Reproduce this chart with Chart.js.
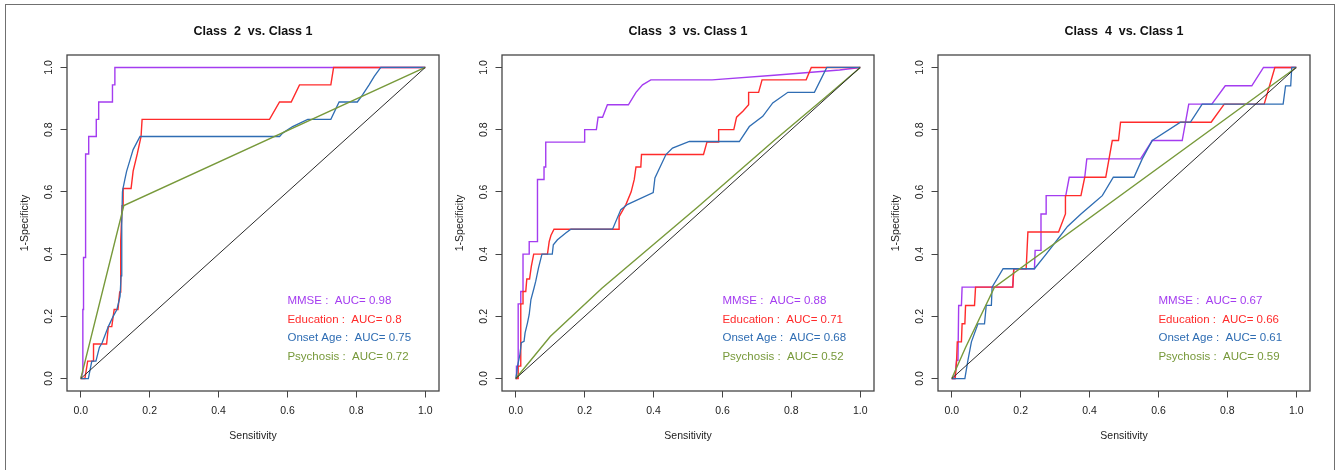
<!DOCTYPE html>
<html><head><meta charset="utf-8">
<script src="https://cdn.jsdelivr.net/npm/chart.js@4.4.1/dist/chart.umd.min.js"></script>
<style>
html,body{margin:0;padding:0;background:#fff;width:1341px;height:470px;overflow:hidden;position:relative}
#frame{position:absolute;left:5px;top:4px;width:1330px;height:480px;border:1.4px solid #707070;border-bottom:none;box-sizing:border-box}
canvas{position:absolute;top:0}
</style></head><body>
<div id="frame"></div>
<canvas id="c1" width="447" height="470" style="left:0px"></canvas>
<canvas id="c2" width="447" height="470" style="left:435px"></canvas>
<canvas id="c3" width="447" height="470" style="left:871px"></canvas>
<script>
const FONT = '"Liberation Sans", Arial, Helvetica, sans-serif';

const tickValues = [0, 0.2, 0.4, 0.6, 0.8, 1.0];
const seriesNames = ['MMSE', 'Education', 'Onset Age', 'Psychosis'];
const seriesColors = ['#A43CF0', '#FF2B2B', '#2F6DB3', '#77993A'];
const panelTitles = ['Class  2  vs. Class 1', 'Class  3  vs. Class 1', 'Class  4  vs. Class 1'];
const auc2 = ['0.98', '0.8', '0.75', '0.72'];
const auc3 = ['0.88', '0.71', '0.68', '0.52'];
const auc4 = ['0.67', '0.66', '0.61', '0.59'];
const diagonal = [[0,0],[1,1]];

// Class 2 vs Class 1
const c2MMSE = [[0,0],[0.006,0.02],[0.006,0.222],[0.008,0.222],[0.008,0.389],[0.014,0.389],[0.014,0.722],[0.023,0.722],[0.023,0.778],[0.045,0.778],[0.045,0.833],[0.052,0.833],[0.052,0.889],[0.092,0.889],[0.092,0.944],[0.099,0.944],[0.099,1],[1,1]];
const c2Edu = [[0,0],[0.012,0],[0.02,0.056],[0.037,0.056],[0.037,0.111],[0.075,0.111],[0.08,0.167],[0.09,0.167],[0.097,0.222],[0.108,0.222],[0.113,0.278],[0.116,0.278],[0.116,0.444],[0.12,0.556],[0.123,0.556],[0.123,0.611],[0.146,0.611],[0.152,0.667],[0.164,0.722],[0.175,0.778],[0.178,0.833],[0.548,0.833],[0.577,0.889],[0.611,0.889],[0.635,0.944],[0.726,0.944],[0.734,1],[1,1]];
const c2Onset = [[0,0],[0.022,0],[0.032,0.056],[0.044,0.056],[0.054,0.1],[0.062,0.115],[0.08,0.167],[0.094,0.2],[0.105,0.222],[0.114,0.264],[0.117,0.33],[0.119,0.5],[0.121,0.6],[0.123,0.613],[0.128,0.64],[0.133,0.666],[0.143,0.703],[0.152,0.736],[0.172,0.778],[0.577,0.778],[0.586,0.789],[0.615,0.81],[0.659,0.833],[0.726,0.833],[0.75,0.889],[0.803,0.889],[0.818,0.912],[0.837,0.944],[0.852,0.971],[0.871,1],[1,1]];
const c2Psych = [[0,0],[0.125,0.556],[1,1]];

// Class 3 vs Class 1
const c3MMSE = [[0,0],[0.002,0],[0.002,0.04],[0.007,0.04],[0.007,0.24],[0.0145,0.24],[0.0145,0.28],[0.021,0.28],[0.021,0.4],[0.039,0.4],[0.039,0.44],[0.063,0.44],[0.063,0.64],[0.082,0.64],[0.082,0.68],[0.087,0.68],[0.087,0.76],[0.2,0.76],[0.2,0.8],[0.234,0.8],[0.239,0.84],[0.252,0.84],[0.266,0.88],[0.327,0.88],[0.349,0.92],[0.368,0.944],[0.392,0.96],[0.57,0.96],[0.75,0.975],[0.94,0.992],[1,1]];
const c3Edu = [[0,0],[0.007,0],[0.007,0.04],[0.0145,0.04],[0.0145,0.24],[0.021,0.24],[0.021,0.28],[0.029,0.28],[0.032,0.32],[0.04,0.32],[0.045,0.36],[0.052,0.4],[0.092,0.4],[0.097,0.44],[0.102,0.46],[0.111,0.48],[0.3,0.48],[0.3,0.52],[0.32,0.56],[0.335,0.6],[0.344,0.64],[0.349,0.68],[0.363,0.68],[0.365,0.72],[0.545,0.72],[0.555,0.76],[0.589,0.76],[0.589,0.8],[0.633,0.8],[0.641,0.84],[0.66,0.86],[0.676,0.88],[0.676,0.92],[0.705,0.92],[0.715,0.96],[0.843,0.96],[0.858,1],[1,1]];
const c3Onset = [[0,0],[0.003,0.02],[0.005,0.04],[0.012,0.077],[0.016,0.115],[0.024,0.12],[0.027,0.147],[0.034,0.179],[0.039,0.206],[0.044,0.254],[0.053,0.291],[0.058,0.313],[0.066,0.356],[0.076,0.4],[0.106,0.4],[0.109,0.43],[0.121,0.446],[0.145,0.468],[0.16,0.48],[0.281,0.48],[0.305,0.543],[0.325,0.56],[0.399,0.598],[0.404,0.645],[0.436,0.72],[0.455,0.741],[0.504,0.762],[0.649,0.762],[0.678,0.81],[0.717,0.843],[0.746,0.886],[0.79,0.92],[0.867,0.92],[0.903,1],[1,1]];
const c3Psych = [[0,0],[0.1,0.135],[0.25,0.29],[0.53,0.553],[0.75,0.765],[0.9,0.905],[1,1]];

// Class 4 vs Class 1
const c4MMSE = [[0,0],[0.009,0],[0.014,0.059],[0.018,0.059],[0.02,0.235],[0.028,0.235],[0.03,0.294],[0.177,0.294],[0.18,0.353],[0.24,0.353],[0.242,0.412],[0.259,0.412],[0.259,0.529],[0.274,0.529],[0.274,0.588],[0.331,0.588],[0.341,0.647],[0.386,0.647],[0.392,0.706],[0.548,0.706],[0.582,0.765],[0.669,0.765],[0.688,0.882],[0.755,0.882],[0.794,0.941],[0.871,0.941],[0.905,1],[1,1]];
const c4Edu = [[0,0],[0.01,0],[0.014,0.059],[0.016,0.118],[0.028,0.118],[0.03,0.176],[0.038,0.176],[0.04,0.235],[0.066,0.235],[0.069,0.294],[0.177,0.294],[0.18,0.353],[0.216,0.353],[0.221,0.471],[0.31,0.471],[0.33,0.529],[0.33,0.588],[0.375,0.588],[0.386,0.647],[0.447,0.647],[0.466,0.765],[0.484,0.765],[0.49,0.824],[0.753,0.824],[0.791,0.882],[0.907,0.882],[0.938,1],[1,1]];
const c4Onset = [[0,0],[0.038,0],[0.047,0.059],[0.057,0.118],[0.076,0.176],[0.095,0.176],[0.1,0.235],[0.115,0.235],[0.117,0.294],[0.149,0.353],[0.24,0.353],[0.274,0.4],[0.307,0.447],[0.336,0.489],[0.375,0.529],[0.413,0.565],[0.437,0.588],[0.469,0.647],[0.529,0.647],[0.553,0.706],[0.582,0.765],[0.664,0.824],[0.693,0.824],[0.727,0.882],[0.962,0.882],[0.969,0.941],[0.984,0.941],[0.987,1],[1,1]];
const c4Psych = [[0,0],[0.04,0.1],[0.124,0.294],[1,1]];

const rocBox = {
  id: 'rocBox',
  afterDatasetsDraw(chart, args, opts) {
    const {ctx, chartArea: a, scales} = chart;
    ctx.save();
    ctx.strokeStyle = '#454545';
    ctx.lineWidth = 1.3;
    ctx.strokeRect(a.left, a.top, a.right - a.left, a.bottom - a.top);
    ctx.font = '11.5px ' + FONT;
    ctx.textBaseline = 'middle';
    ctx.textAlign = 'left';
    opts.items.forEach((it, i) => {
      ctx.fillStyle = it.color;
      ctx.fillText(it.text, scales.x.getPixelForValue(opts.x), scales.y.getPixelForValue(opts.ys[i]));
    });
    ctx.restore();
  }
};

function toXY(arr) { return arr.map(p => ({x: p[0], y: p[1]})); }

function makeChart(id, title, curves, aucs) {
  const datasets = curves.map((c, i) => ({
    label: seriesNames[i], data: toXY(c), borderColor: seriesColors[i],
    borderWidth: i === 2 ? 1.3 : 1.4, pointRadius: 0, tension: 0, fill: false, order: 4 - i
  }));
  datasets.push({label: 'ref', data: toXY(diagonal), borderColor: '#2a2a2a', borderWidth: 1, pointRadius: 0, fill: false, order: 0});
  const items = seriesNames.map((n, i) => ({text: n + ' :  AUC= ' + aucs[i], color: seriesColors[i]}));
  const axisCommon = (isX) => ({
    type: 'linear', min: -0.04, max: 1.04,
    afterBuildTicks: s => { s.ticks = tickValues.map(v => ({value: v})); },
    grid: {drawOnChartArea: false, drawTicks: true, tickLength: 6.5, color: '#444', tickColor: '#444', lineWidth: 1},
    border: {display: false},
    ticks: {color: '#222', font: {family: FONT, size: 10.5}, autoSkip: false,
      callback: v => Number(v).toFixed(1)}
  });
  const xs = axisCommon(true);
  xs.afterFit = s => { s.height = 79; };
  xs.ticks.padding = 7.2; xs.ticks.maxRotation = 0; xs.ticks.minRotation = 0;
  xs.title = {display: true, text: 'Sensitivity', color: '#222', font: {family: FONT, size: 10.5}, padding: {top: 0, bottom: 27.7}};
  const ys = axisCommon(false);
  ys.afterFit = s => { s.width = 67; };
  ys.ticks.padding = 4.2; ys.ticks.minRotation = 90; ys.ticks.maxRotation = 90; ys.ticks.crossAlign = 'center';
  ys.title = {display: true, text: '1-Specificity', color: '#222', font: {family: FONT, size: 10.5}, padding: {top: 18.7, bottom: 0}};
  return new Chart(document.getElementById(id), {
    type: 'line',
    data: {datasets},
    plugins: [rocBox],
    options: {
      responsive: false, animation: false, events: [],
      layout: {padding: {left: 0, right: 8, top: 0, bottom: 0}},
      plugins: {
        legend: {display: false}, tooltip: {enabled: false},
        title: {display: true, text: title, fullSize: false, color: '#111',
          font: {family: FONT, size: 12.5, weight: 'bold'}, padding: {top: 24, bottom: 16}},
        rocBox: {items, x: 0.6, ys: [0.25, 0.19, 0.13, 0.07]}
      },
      scales: {x: xs, y: ys}
    }
  });
}

makeChart('c1', panelTitles[0], [c2MMSE, c2Edu, c2Onset, c2Psych], auc2);
makeChart('c2', panelTitles[1], [c3MMSE, c3Edu, c3Onset, c3Psych], auc3);
makeChart('c3', panelTitles[2], [c4MMSE, c4Edu, c4Onset, c4Psych], auc4);
</script>
</body></html>
